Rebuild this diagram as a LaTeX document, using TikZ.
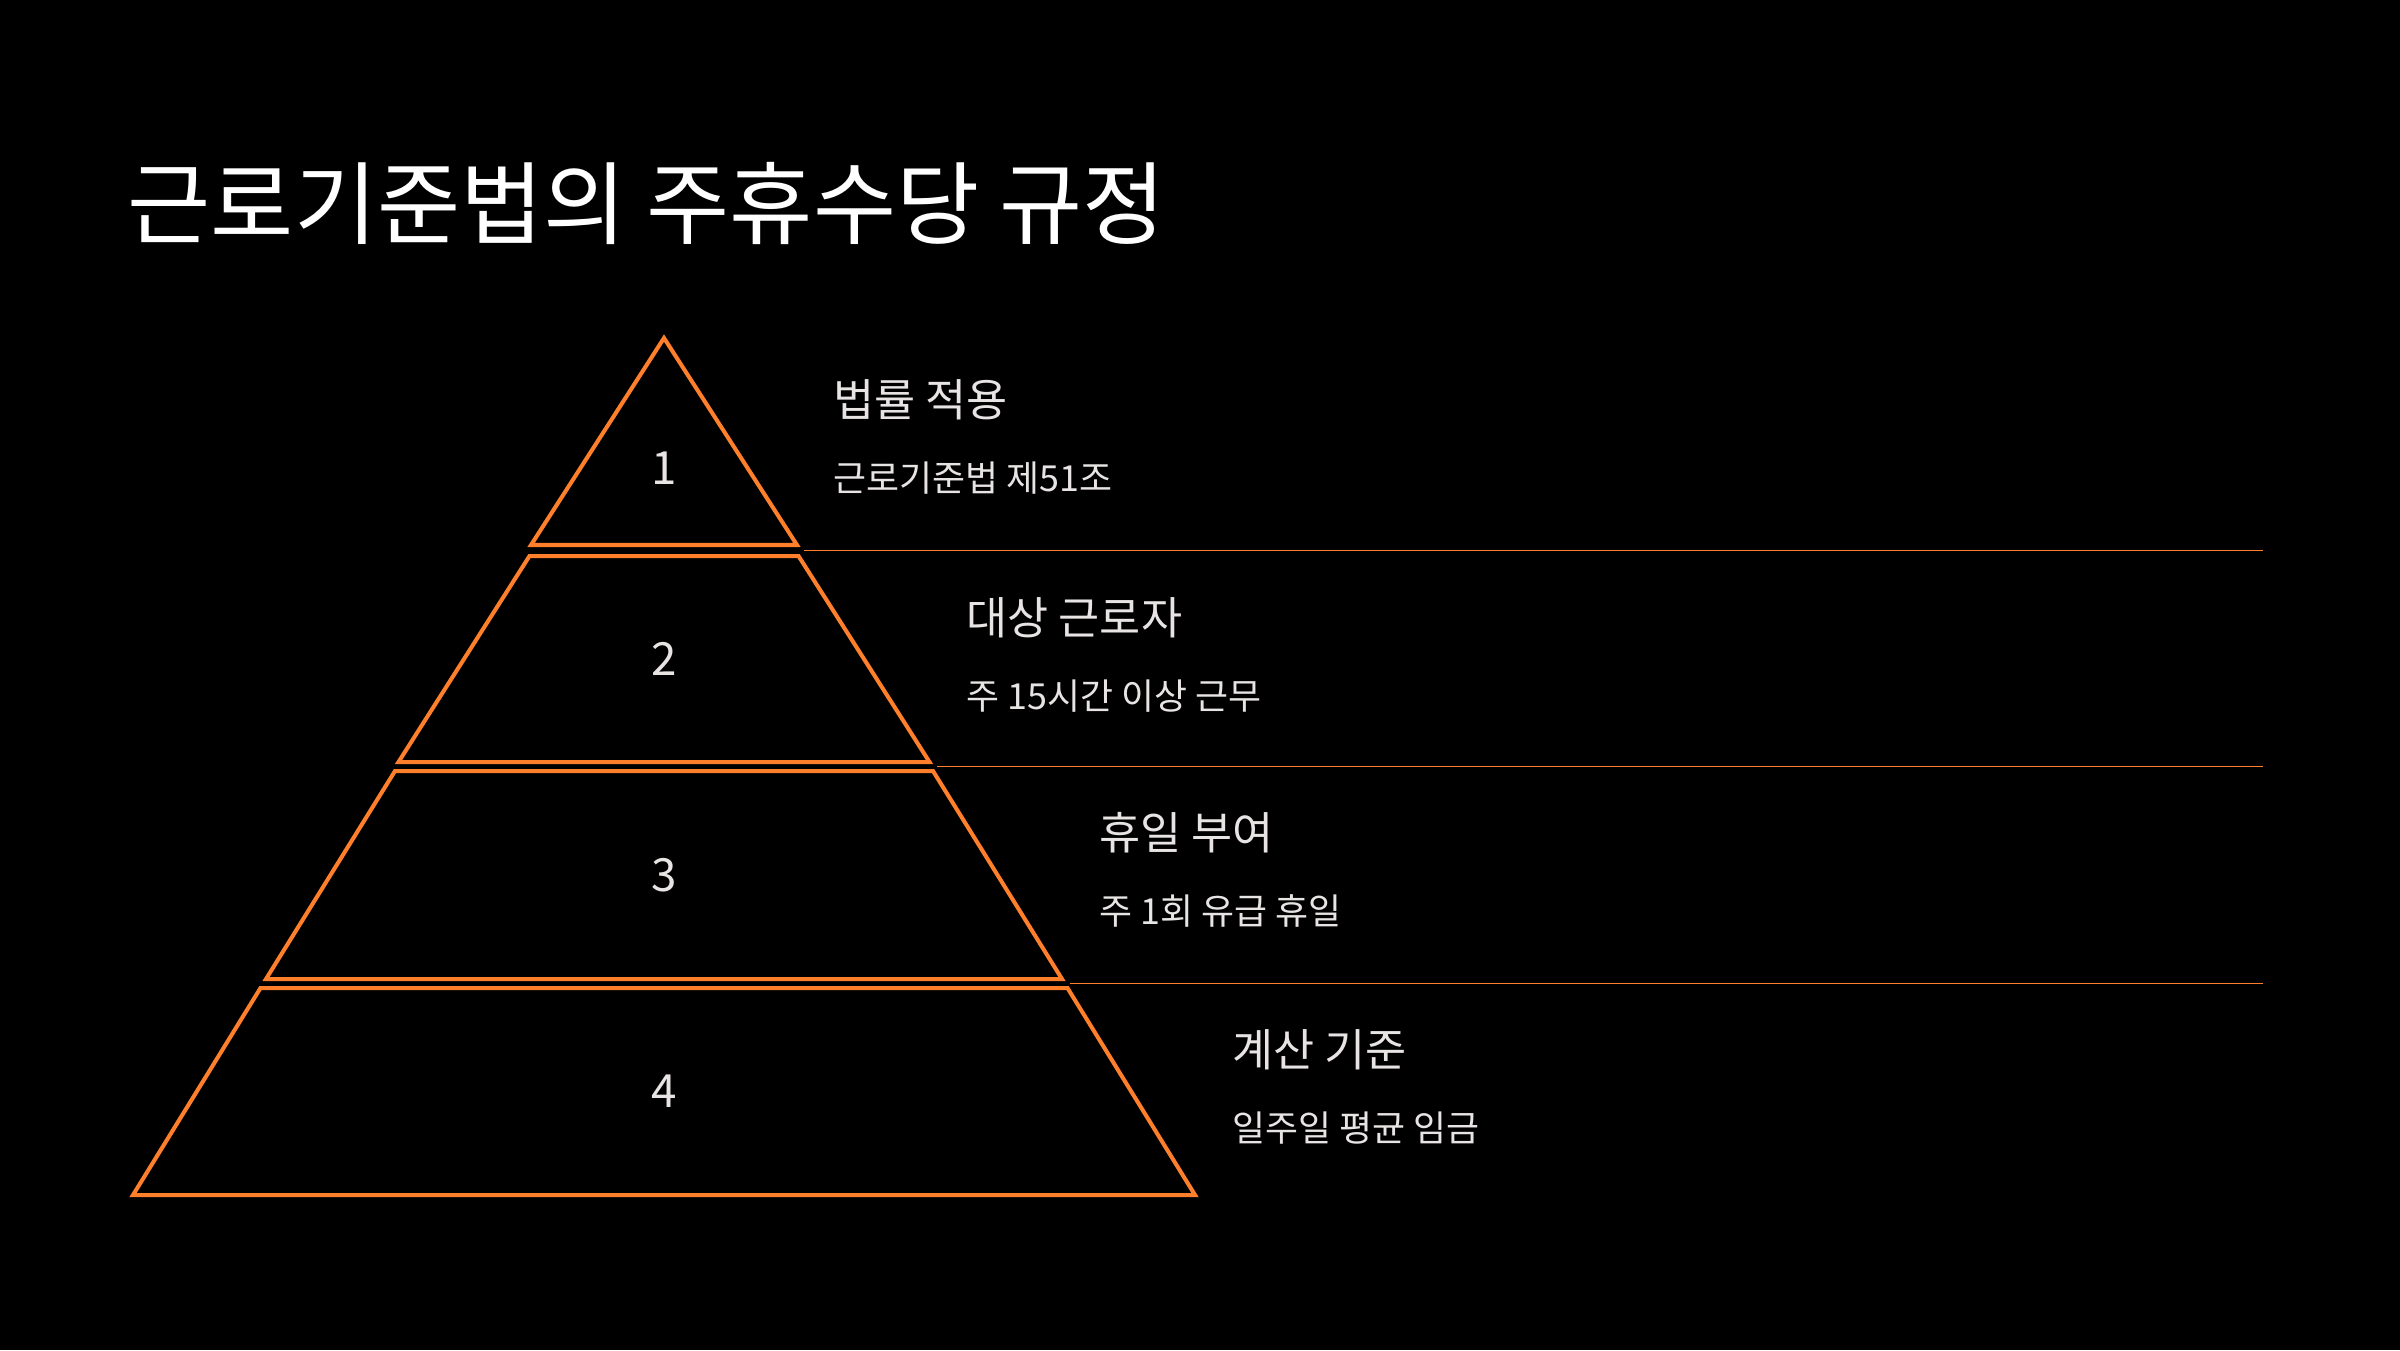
\documentclass[tikz,border=0pt]{standalone}
\usepackage{fontspec}
\setmainfont{Noto Sans CJK KR}
\definecolor{orng}{HTML}{FF7F2A}
\definecolor{txt}{HTML}{E8E4E4}
\begin{document}
\begin{tikzpicture}[x=0.01cm,y=-0.01cm,
  lvl/.style={draw=orng,line width=1.15pt,line join=miter},
  sep/.style={draw=orng,line width=0.55pt},
  num/.style={text=txt,font=\fontsize{13}{15}\selectfont,inner sep=0},
  head/.style={text=txt,font=\fontsize{12.7}{15}\selectfont,anchor=west,inner sep=0},
  subt/.style={text=txt,font=\fontsize{10.2}{12}\selectfont,anchor=west,inner sep=0}]
\fill[black] (0,0) rectangle (2400,1350);
\useasboundingbox (0,0) rectangle (2400,1350);

\node[anchor=west,inner sep=0,text=white,font=\fontsize{25.7}{30}\selectfont] (title) at (127,203) {근로기준법의 주휴수당 규정};

% pyramid levels
\draw[lvl] (664,338) -- (797,545) -- (531,545) -- cycle;
\draw[lvl] (529.5,556) -- (798.5,556) -- (929.5,762) -- (398.5,762) -- cycle;
\draw[lvl] (395,771) -- (933,771) -- (1062,979) -- (266,979) -- cycle;
\draw[lvl] (260.5,988) -- (1067.5,988) -- (1195,1195) -- (133,1195) -- cycle;

% separators
\coordinate (s1a) at (804,550.5);  \coordinate (s1b) at (2263,550.5);
\coordinate (s2a) at (937,766.5);  \coordinate (s2b) at (2263,766.5);
\coordinate (s3a) at (1070,983.5); \coordinate (s3b) at (2263,983.5);
\draw[sep] (s1a) -- (s1b);
\draw[sep] (s2a) -- (s2b);
\draw[sep] (s3a) -- (s3b);

% numbers
\node[num] (n1) at (664,468) {1};
\node[num] (n2) at (664,659) {2};
\node[num] (n3) at (664,875) {3};
\node[num] (n4) at (664,1091.5) {4};

% labels
\node[head] (h1) at (833,400) {법률 적용};
\node[subt] (t1) at (833,478) {근로기준법 제51조};
\node[head] (h2) at (966,618) {대상 근로자};
\node[subt] (t2) at (966,696) {주 15시간 이상 근무};
\node[head] (h3) at (1099,833) {휴일 부여};
\node[subt] (t3) at (1099,911) {주 1회 유급 휴일};
\node[head] (h4) at (1232,1050) {계산 기준};
\node[subt] (t4) at (1232,1128) {일주일 평균 임금};
\end{tikzpicture}
\end{document}
